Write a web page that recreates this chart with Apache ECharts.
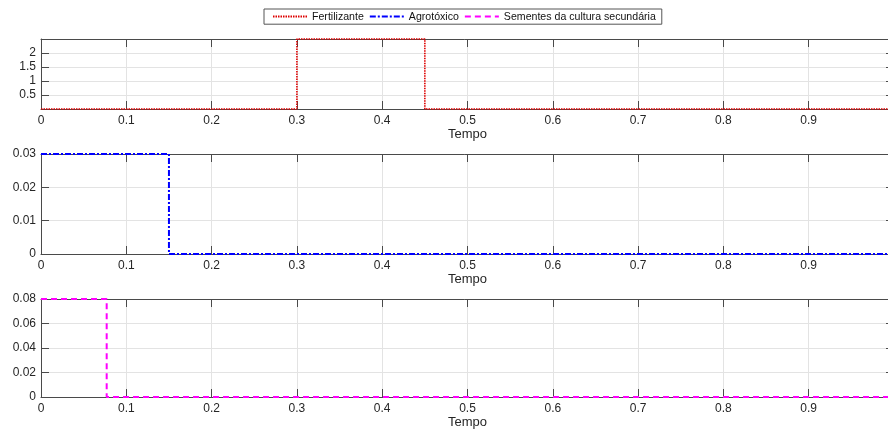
<!DOCTYPE html>
<html>
<head>
<meta charset="utf-8">
<script src="https://cdn.jsdelivr.net/npm/echarts@6/dist/echarts.min.js"></script>
<style>
  html, body { margin: 0; padding: 0; background: #fff; }
  #chart { width: 888px; height: 430px; }
</style>
</head>
<body>
<div id="chart"></div>
<script>
// Step inputs over time (value holds until the next time point)
const tempoFertilizante = [0, 0.3, 0.45, 1];
const fertilizante = [0, 2.5, 0, 0];
const tempoAgrotoxico = [0, 0.15, 1];
const agrotoxico = [0.03, 0, 0];
const tempoSementes = [0, 0.077, 1];
const sementes = [0.08, 0, 0];

const nomes = ['Fertilizante', 'Agrotóxico', 'Sementes da cultura secundária'];
const xTitulo = 'Tempo';

const FONT = 'Liberation Sans, Arial, Helvetica, sans-serif';
const AXIS = '#4a4a4a';
const GRID = '#e3e3e3';

const pares = (t, v) => t.map((x, i) => [x, v[i]]);

// panel frames
const panels = [
  { top: 39, height: 70, min: 0, max: 2.5, interval: 0.5, hideEnds: true },
  { top: 154, height: 100, min: 0, max: 0.03, interval: 0.01 },
  { top: 299, height: 98, min: 0, max: 0.08, interval: 0.02 }
];

const grids = [], xAxes = [], yAxes = [];
panels.forEach((p, i) => {
  grids.push({ left: 41, top: p.top, width: 853, height: p.height, containLabel: false, outerBoundsMode: 'none' });
  // bottom axis with labels and vertical grid lines
  xAxes.push({
    type: 'value', gridIndex: i, min: 0, max: 1, interval: 0.1, position: 'bottom',
    name: xTitulo, nameLocation: 'middle', nameGap: 17,
    nameTextStyle: { fontFamily: FONT, fontSize: 13, color: '#262626' },
    axisLine: { show: true, onZero: false, lineStyle: { color: AXIS, width: 1 } },
    axisTick: { show: true, inside: true, length: 8, lineStyle: { color: AXIS } },
    axisLabel: { show: true, margin: 6, fontFamily: FONT, fontSize: 12, color: '#262626',
      formatter: v => (v >= 1 ? '' : (v === 0 ? '0' : String(+v.toFixed(1)))) },
    splitLine: { show: true, lineStyle: { color: GRID, width: 1 } }
  });
  // top border with inward ticks
  xAxes.push({
    type: 'value', gridIndex: i, min: 0, max: 1, interval: 0.1, position: 'top',
    axisLine: { show: true, onZero: false, lineStyle: { color: AXIS, width: 1 } },
    axisTick: { show: true, inside: true, length: 8, lineStyle: { color: AXIS } },
    axisLabel: { show: false }, splitLine: { show: false }
  });
  const fmt = v => {
    if (p.hideEnds && (v === p.min || Math.abs(v - p.max) < 1e-9)) return '';
    return String(+v.toFixed(3));
  };
  yAxes.push({
    type: 'value', gridIndex: i, min: p.min, max: p.max, interval: p.interval, position: 'left',
    axisLine: { show: true, onZero: false, lineStyle: { color: AXIS, width: 1 } },
    axisTick: { show: true, inside: true, length: 8, lineStyle: { color: AXIS } },
    axisLabel: { show: true, margin: 5, fontFamily: FONT, fontSize: 12, color: '#262626', formatter: fmt },
    splitLine: { show: true, lineStyle: { color: GRID, width: 1 } }
  });
  yAxes.push({
    type: 'value', gridIndex: i, min: p.min, max: p.max, interval: p.interval, position: 'right',
    axisLine: { show: true, onZero: false, lineStyle: { color: AXIS, width: 1 } },
    axisTick: { show: true, inside: true, length: 8, lineStyle: { color: AXIS } },
    axisLabel: { show: false }, splitLine: { show: false }
  });
});

const chart = echarts.init(document.getElementById('chart'), null, { renderer: 'canvas' });
chart.setOption({
  animation: false,
  backgroundColor: '#fff',
  legend: {
    left: 264, top: 9,
    padding: [2, 6, 2, 8],
    itemGap: 5, itemWidth: 34, itemHeight: 14,
    borderColor: '#555', borderWidth: 1, backgroundColor: '#fff',
    itemStyle: { opacity: 0 },
    textStyle: { fontFamily: FONT, fontSize: 10.6, color: '#111' },
    data: nomes
  },
  grid: grids,
  xAxis: xAxes,
  yAxis: yAxes,
  series: [
    {
      name: nomes[0], type: 'line', xAxisIndex: 0, yAxisIndex: 0, step: 'end',
      symbol: 'none', clip: false, color: '#dd0000',
      lineStyle: { color: '#dd0000', width: 1.6, type: [1.5, 1] },
      data: pares(tempoFertilizante, fertilizante)
    },
    {
      name: nomes[1], type: 'line', xAxisIndex: 2, yAxisIndex: 2, step: 'end',
      symbol: 'none', clip: false, color: '#0000ff',
      lineStyle: { color: '#0000ff', width: 2, type: [6, 2, 2, 2] },
      data: pares(tempoAgrotoxico, agrotoxico)
    },
    {
      name: nomes[2], type: 'line', xAxisIndex: 4, yAxisIndex: 4, step: 'end',
      symbol: 'none', clip: false, color: '#ff00ff',
      lineStyle: { color: '#ff00ff', width: 2, type: [6, 4] },
      data: pares(tempoSementes, sementes)
    }
  ]
});
</script>
</body>
</html>
